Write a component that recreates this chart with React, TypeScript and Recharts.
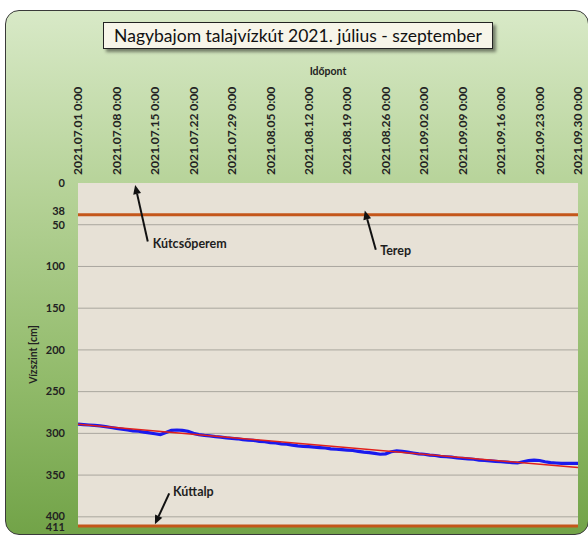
import React from 'react';
import {
  LineChart, Line, XAxis, YAxis, CartesianGrid, ReferenceLine, ReferenceDot, Label,
} from 'recharts';

// Daily water level (cm below well top), 2021.07.01 .. 2021.09.30
const levelValues = [
  289, 289.5, 290, 290.5, 291, 292, 293, 294, 295, 296,
  297, 297.5, 298.5, 299.5, 300.5, 301.5, 299, 296.5, 296, 296.5,
  297.5, 300, 301.5, 302.5, 303, 304, 304.5, 305.5, 306, 306.5,
  307.5, 308, 308.5, 309.5, 310, 311, 311.5, 312.5, 313, 314,
  315, 315.5, 316, 316.5, 317, 317.5, 318.5, 319, 319.5, 320,
  320.5, 321.5, 322.5, 323, 324, 325, 324.5, 322, 321, 321.5,
  322.5, 323.5, 324.5, 325, 326, 326.5, 327.5, 328, 328.5, 329.5,
  330, 330.5, 331, 332, 332.5, 333, 333.5, 334, 334.5, 335,
  335.5, 334, 332.5, 332, 332.5, 334, 335, 335.5, 336, 336,
  336, 336,
];

// Linear trend (start / end)
const trendDays = [0, 91];
const trendValues = [289, 341];

const xTickLabels = [
  '2021.07.01 0:00', '2021.07.08 0:00', '2021.07.15 0:00', '2021.07.22 0:00',
  '2021.07.29 0:00', '2021.08.05 0:00', '2021.08.12 0:00', '2021.08.19 0:00',
  '2021.08.26 0:00', '2021.09.02 0:00', '2021.09.09 0:00', '2021.09.16 0:00',
  '2021.09.23 0:00', '2021.09.30 0:00',
];
const xTicks = xTickLabels.map((_, i) => i * 7);

const yTicks = [0, 38, 50, 100, 150, 200, 250, 300, 350, 400, 411];
const gridValues = [50, 100, 150, 200, 250, 300, 350, 400];

const kutcsoperem = 0;
const terep = 38;
const kuttalp = 411;

// annotation arrows (data coordinates: day, cm)
const annotations = [
  { text: 'Kútcsőperem', tail: [12.7, 70], tip: [10.4, 2.5], textAt: [13.6, 73] },
  { text: 'Terep', tail: [54.2, 80], tip: [52.2, 33], textAt: [55, 81.5] },
  { text: 'Kúttalp', tail: [16.6, 372], tip: [14, 409], textAt: [17.3, 370] },
];

const data = levelValues.map((v, i) => ({ day: i, level: v }));
const trendData = trendDays.map((d, i) => ({ day: d, trend: trendValues[i] }));

const FONT = 'Lato, "Open Sans", sans-serif';

// small vertical nudges so crowded tick labels stay readable
const yLabelNudge: Record<number, number> = { 38: -4, 400: -1, 411: 1.5 };

const DateTick = (props: any) => {
  const { x, y, payload } = props;
  const idx = xTicks.indexOf(payload.value);
  return (
    <text
      transform={`translate(${x},${y}) rotate(-90)`}
      textAnchor="start"
      dy="0.35em"
      fontFamily={FONT}
      fontWeight={700}
      fontSize={12}
      fill="#222"
    >
      {xTickLabels[idx]}
    </text>
  );
};

const LevelTick = (props: any) => {
  const { x, y, payload } = props;
  const nudge = yLabelNudge[payload.value] || 0;
  return (
    <text
      x={x}
      y={y + nudge}
      textAnchor="end"
      dy="0.35em"
      fontFamily={FONT}
      fontWeight={700}
      fontSize={11}
      fill="#222"
    >
      {payload.value}
    </text>
  );
};

const ArrowShape = (props: any) => {
  const { x1, y1, x2, y2 } = props;
  const ang = Math.atan2(y2 - y1, x2 - x1);
  const len = 9;
  const w = 4;
  const bx = x2 - len * Math.cos(ang);
  const by = y2 - len * Math.sin(ang);
  const px = -Math.sin(ang) * w;
  const py = Math.cos(ang) * w;
  return (
    <g>
      <line x1={x1} y1={y1} x2={bx} y2={by} stroke="#111" strokeWidth={2} />
      <polygon points={`${x2},${y2} ${bx + px},${by + py} ${bx - px},${by - py}`} fill="#111" />
    </g>
  );
};

const makeTextShape = (text: string) => (p: any) => (
  <text
    x={p.cx}
    y={p.cy}
    dy="0.35em"
    fontFamily={FONT}
    fontWeight={700}
    fontSize={12.5}
    fill="#1e1e1e"
  >
    {text}
  </text>
);

export default function App() {
  return (
    <div style={{ position: 'absolute', left: 0, top: 0, width: 588, height: 535, overflow: 'hidden', background: '#ffffff' }}>
      <div
        style={{
          position: 'absolute', left: 5, top: 10, width: 582, height: 523,
          borderRadius: 14, border: '1.5px solid #3a3a3a',
          background: 'linear-gradient(to bottom, #d8e9c7 0%, #b5d297 35%, #92bb6b 70%, #72a348 100%)',
        }}
      />
      <div style={{ position: 'absolute', left: 0, top: 0 }}>
        <LineChart width={588} height={535} data={data} margin={{ top: 0, right: 10, bottom: 9, left: 0 }}>
          <CartesianGrid
            vertical={false}
            horizontalValues={gridValues}
            stroke="#aaa69e"
            fill="#e7e1d6"
            fillOpacity={1}
          />
          <XAxis
            dataKey="day"
            type="number"
            domain={[0, 91]}
            ticks={xTicks}
            interval={0}
            orientation="top"
            height={183}
            axisLine={false}
            tickLine={false}
            tickSize={0}
            tickMargin={8}
            tick={<DateTick />}
          >
            <Label
              content={(p: any) => (
                <text
                  x={p.viewBox.x + p.viewBox.width / 2}
                  y={71}
                  textAnchor="middle"
                  dy="0.35em"
                  fontFamily={FONT}
                  fontWeight={700}
                  fontSize={10.5}
                  fill="#222"
                >
                  Időpont
                </text>
              )}
            />
          </XAxis>
          <YAxis
            type="number"
            domain={[0, 411]}
            reversed
            ticks={yTicks}
            interval={0}
            width={78}
            axisLine={false}
            tickLine={false}
            tickSize={0}
            tickMargin={13}
            tick={<LevelTick />}
          >
            <Label
              content={(p: any) => {
                const cx = p.viewBox.x + 33;
                const cy = p.viewBox.y + p.viewBox.height / 2;
                return (
                  <text
                    transform={`translate(${cx},${cy}) rotate(-90)`}
                    textAnchor="middle"
                    dy="0.35em"
                    fontFamily={FONT}
                    fontWeight={700}
                    fontSize={10.5}
                    fill="#222"
                  >
                    Vízszint [cm]
                  </text>
                );
              }}
            />
          </YAxis>
          <ReferenceLine y={kutcsoperem} stroke="none" />
          <ReferenceLine y={terep} stroke="#c4561a" strokeWidth={3} ifOverflow="visible" />
          <ReferenceLine y={kuttalp} stroke="#c4561a" strokeWidth={3} ifOverflow="visible" />
          <Line
            dataKey="level"
            stroke="#1a1aee"
            strokeWidth={3.2}
            dot={false}
            isAnimationActive={false}
          />
          <Line
            data={trendData}
            dataKey="trend"
            stroke="#e0201c"
            strokeWidth={1.5}
            dot={false}
            isAnimationActive={false}
          />
          {annotations.map((a) => (
            <ReferenceLine
              key={a.text + '-arrow'}
              segment={[{ x: a.tail[0], y: a.tail[1] }, { x: a.tip[0], y: a.tip[1] }]}
              ifOverflow="visible"
              shape={ArrowShape}
            />
          ))}
          {annotations.map((a) => (
            <ReferenceDot
              key={a.text + '-text'}
              x={a.textAt[0]}
              y={a.textAt[1]}
              r={0}
              ifOverflow="visible"
              shape={makeTextShape(a.text)}
            />
          ))}
        </LineChart>
      </div>
      <div
        style={{
          position: 'absolute', left: 103, top: 22, width: 388, height: 25,
          border: '1px solid #222', background: '#f7f5e9',
          boxShadow: '3px 3px 3px rgba(0,0,0,0.45)',
          fontFamily: FONT, fontSize: 17.5, color: '#111',
          display: 'flex', alignItems: 'center', justifyContent: 'center',
          whiteSpace: 'nowrap',
        }}
      >
        Nagybajom talajvízkút 2021. július - szeptember
      </div>
    </div>
  );
}
